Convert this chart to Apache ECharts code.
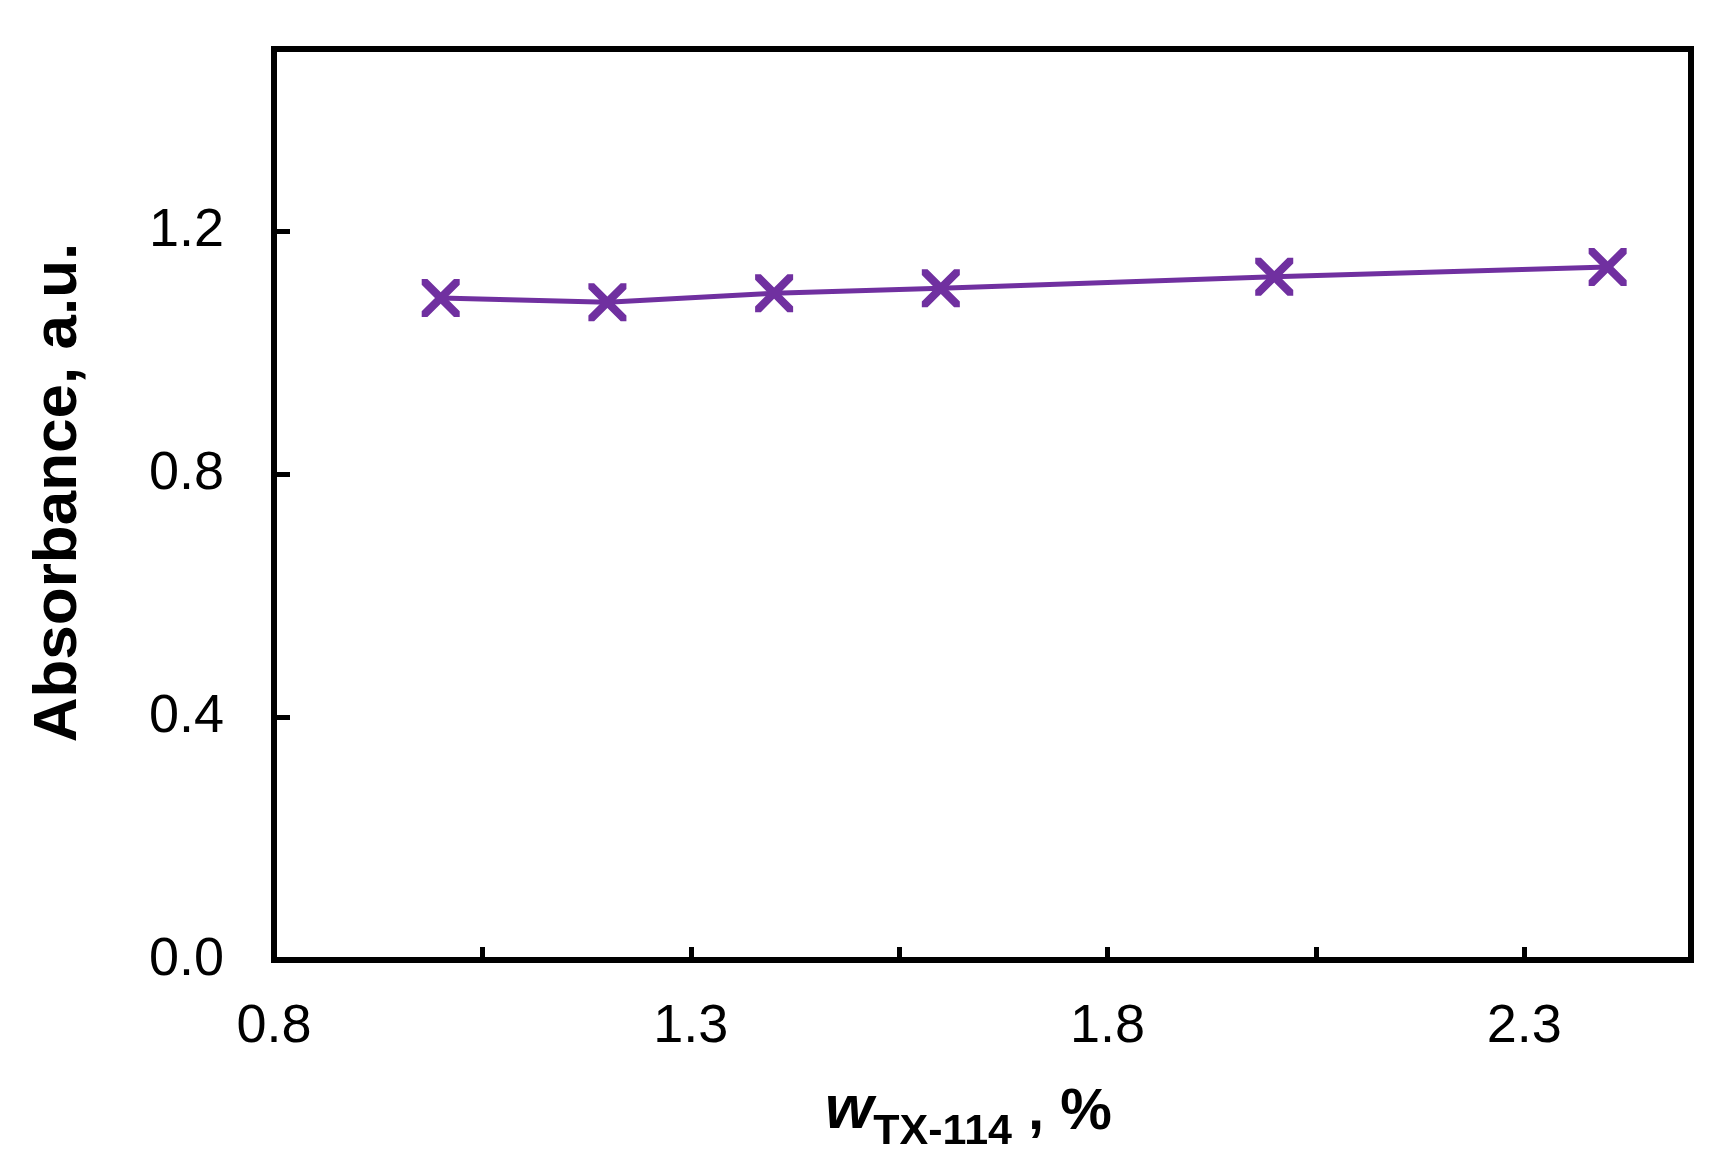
<!DOCTYPE html>
<html>
<head>
<meta charset="utf-8">
<script src="https://cdn.jsdelivr.net/npm/echarts@6/dist/echarts.min.js"></script>
<style>
html,body{margin:0;padding:0;background:#fff;}
#chart{width:1732px;height:1173px;}
</style>
</head>
<body>
<div id="chart"></div>
<script>
const xValues = [1.0, 1.2, 1.4, 1.6, 2.0, 2.4];
const absorbance = [1.090, 1.083, 1.098, 1.106, 1.125, 1.141];
const xTickLabels = [0.8, 1.3, 1.8, 2.3];
const yTickLabels = [0.0, 0.4, 0.8, 1.2];

const chart = echarts.init(document.getElementById('chart'), null, {renderer: 'canvas'});
const crossPath = 'path://M0,0 L3,0 L10,7 L17,0 L20,0 L20,3 L13,10 L20,17 L20,20 L17,20 L10,13 L3,20 L0,20 L0,17 L7,10 L0,3 Z';
const purple = '#7030A0';
const font = '"Liberation Sans", Arial, sans-serif';

function inList(v, list) {
  return list.some(t => Math.abs(t - v) < 1e-6);
}

chart.setOption({
  backgroundColor: '#fff',
  animation: false,
  grid: {left: 274, right: 41, top: 49, bottom: 213, show: true, borderColor: '#000', borderWidth: 6, backgroundColor: 'transparent'},
  xAxis: {
    type: 'value', min: 0.8, max: 2.5, interval: 0.25,
    axisLine: {show: true, onZero: false, lineStyle: {color: '#000', width: 6}},
    axisTick: {show: true, inside: true, length: 13, lineStyle: {color: '#000', width: 5}},
    splitLine: {show: false},
    axisLabel: {
      margin: 40, color: '#000', fontSize: 54, fontFamily: font,
      formatter: v => inList(v, xTickLabels) ? v.toFixed(1) : ''
    },
    name: '{w|w}{sub|TX-114}{rest| , %}',
    nameLocation: 'middle', nameGap: 112,
    nameTextStyle: {
      padding: [0, 28, 0, 0],
      rich: {
        w: {fontSize: 62, fontWeight: 'bold', fontStyle: 'italic', fontFamily: font, color: '#000', verticalAlign: 'bottom', lineHeight: 70},
        sub: {fontSize: 43, fontWeight: 'bold', fontFamily: font, color: '#000', verticalAlign: 'bottom', lineHeight: 70, padding: [0, 0, -12, 0]},
        rest: {fontSize: 58, fontWeight: 'bold', fontFamily: font, color: '#000', verticalAlign: 'bottom', lineHeight: 70}
      }
    }
  },
  yAxis: {
    type: 'value', min: 0, max: 1.5, interval: 0.4,
    axisLine: {show: true, lineStyle: {color: '#000', width: 6}},
    axisTick: {show: true, inside: true, length: 16, lineStyle: {color: '#000', width: 5}},
    splitLine: {show: false},
    axisLabel: {
      margin: 50, color: '#000', fontSize: 54, fontFamily: font,
      formatter: v => inList(v, yTickLabels) ? v.toFixed(1) : ''
    },
    name: 'Absorbance, a.u.',
    nameLocation: 'middle', nameGap: 184,
    nameTextStyle: {fontSize: 62, fontWeight: 'bold', fontFamily: font, color: '#000', padding: [0, 0, 0, 24]}
  },
  series: [{
    type: 'line',
    data: xValues.map((x, i) => [x, absorbance[i]]),
    symbol: crossPath,
    symbolSize: 38,
    showAllSymbol: true,
    lineStyle: {color: purple, width: 5},
    itemStyle: {color: purple},
    z: 3
  }]
});
</script>
</body>
</html>
